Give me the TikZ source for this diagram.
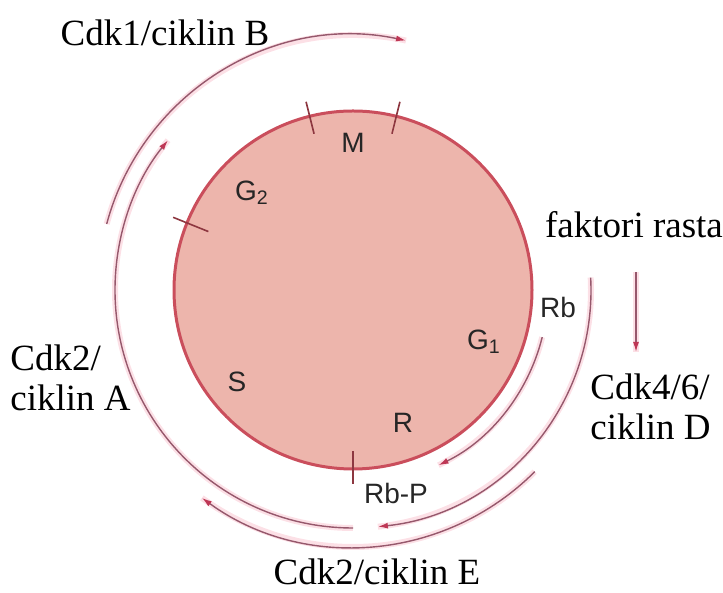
\documentclass[tikz,border=0pt]{standalone}
\usepackage{fontspec}
\setmainfont{Liberation Serif}
\setsansfont{Liberation Sans}
\usepackage{tikz}
\usetikzlibrary{arrows.meta,positioning,calc}
\definecolor{cellfill}{RGB}{237,181,172}
\definecolor{cellline}{RGB}{202,78,92}
\definecolor{arcline}{RGB}{150,88,108}
\definecolor{tipred}{RGB}{190,55,85}
\definecolor{glow}{RGB}{252,224,230}

\begin{document}
\begin{tikzpicture}[
  x=0.5pt, y=0.5pt,
  cell/.style={circle, draw=cellline, line width=1.5pt, fill=cellfill, minimum size=179pt, inner sep=0pt},
  phase/.style={font=\sffamily\fontsize{14}{16}\selectfont, text=black!85, inner sep=0pt},
  lbl/.style={font=\fontsize{18.5}{20}\selectfont, inner sep=0pt, align=left},
  cut/.style={draw=cellline!70!black, line width=0.8pt},
  track/.style={draw=arcline, line width=0.7pt, -{Latex[length=5pt,width=3pt,color=tipred]}, preaction={draw=glow, line width=3pt, -}},
]
\useasboundingbox (0,0) rectangle (723,593);
\coordinate (c) at (353,303);
\node[cell] (cyc) at (c) {};
% faze ciklusa
\node[phase] (m) at (353,450) {M};
\node[phase] (g2) at (252,400) {G\textsubscript{2}};
\node[phase] (s) at (237,211) {S};
\node[phase] (g1) at (484,251) {G\textsubscript{1}};
\node[phase] (r) at (403,170) {R};
\node[phase] (rb) at (558,285) {Rb};
\node[phase] (rbp) at (396,100) {Rb-P};
% granice faza
\draw[cut] ([shift={(104:161)}]c) -- ([shift={(104:194)}]c);
\draw[cut] ([shift={(76:161)}]c) -- ([shift={(76:194)}]c);
\draw[cut] ([shift={(158:156)}]c) -- ([shift={(158:194)}]c);
\draw[cut] ([shift={(270:161)}]c) -- ([shift={(270:194)}]c);
% oznake kompleksa
\node[lbl] (cdk1) at (165,560) {Cdk1/ciklin B};
\node[lbl] (rasta) at (634,368) {faktori rasta};
\node[lbl, anchor=west] (cdk46) at (590,186) {Cdk4/6/\\ciklin D};
\node[lbl, anchor=west] (cdk2a) at (10,215) {Cdk2/\\ciklin A};
\node[lbl] (cdk2e) at (377,21) {Cdk2/ciklin E};
% strelice
\coordinate (gf1) at (636,321);
\coordinate (gf2) at (636,241);
\draw[track] (gf1) -- (gf2);
\draw[track] ([shift={(165:255)}]c) arc[start angle=165, end angle=78, radius=255];
\draw[track] ([shift={(270:238)}]c) arc[start angle=270, end angle=141, radius=238];
\draw[track] ([shift={(3:238)}]c) arc[start angle=3, end angle=-84, radius=238];
\draw[track] ([shift={(-14:195)}]c) arc[start angle=-14, end angle=-64, radius=195];
\draw[track] ([shift={(-45:257)}]c) arc[start angle=-45, end angle=-126, radius=257];
\end{tikzpicture}
\end{document}
